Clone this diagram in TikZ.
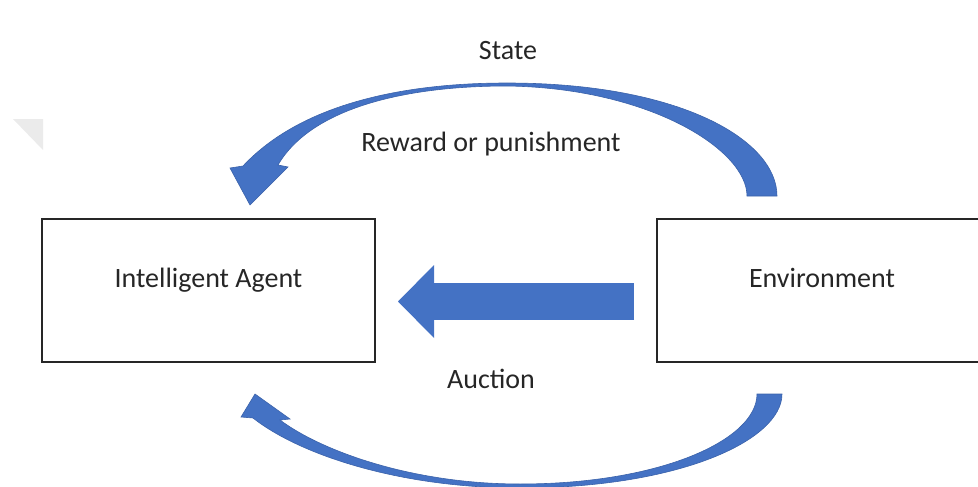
\documentclass[tikz,border=0pt]{standalone}
\usepackage{fontspec}
\setmainfont{Carlito}
\usetikzlibrary{arrows.meta,positioning}
\definecolor{arrowblue}{HTML}{4472C4}
\definecolor{arrowedge}{HTML}{3B62AA}

\begin{document}
\begin{tikzpicture}[x=1pt, y=-1pt,
  box/.style={draw=black!85, line width=2pt, minimum width=333pt, minimum height=143pt, inner sep=0pt},
  lbl/.style={font=\fontsize{28}{34}\selectfont, text=black!85, anchor=base, inner sep=0pt},
  blockarrow/.style={arrowblue, line width=37pt, -{Triangle[width=73pt, length=36pt, line width=0pt]}},
  curved/.style={fill=arrowblue, draw=arrowedge, line width=0.6pt}]
  \useasboundingbox (0,0) rectangle (978,487);
  \clip (0,0) rectangle (978,487);
  \fill[black!8] (13,119) -- (43,119) -- (43,150) -- cycle;

  \node[box] (agent) at (208.5,290.5) {};
  \node[box, minimum width=323pt] (env) at (818.5,290.5) {};
  \node[lbl] (agentlbl) at ([yshift=3.5pt]agent.center) {Intelligent Agent};
  \node[lbl] (envlbl) at ([xshift=3.5pt, yshift=3.5pt]env.center) {Environment};
  \node[lbl] (state) at (508,60) {State};
  \node[lbl] (reward) at (491,151) {Reward or punishment};
  \node[lbl] (auction) at (491,388) {Auction};

  \draw[blockarrow] ([shift={(-22,11)}]env.west) -- ([shift={(22,11)}]agent.east);

  \filldraw[curved] (777,196) .. controls (777,140) and (680,83) .. (507,83)
    .. controls (400,83) and (300,105) .. (243,166)
    -- (230,168) -- (250,205) -- (288,167) -- (278,165)
    .. controls (310,110) and (400,86) .. (507,86)
    .. controls (650,88) and (747,150) .. (747,196) -- cycle;
  \filldraw[curved] (782,394) .. controls (782,440) and (680,488) .. (520,488)
    .. controls (400,488) and (300,455) .. (253,418)
    -- (241,417) -- (255,394) -- (290,419) -- (280,420)
    .. controls (320,450) and (410,484) .. (520,484)
    .. controls (660,484) and (757,440) .. (757,394) -- cycle;
\end{tikzpicture}
\end{document}
